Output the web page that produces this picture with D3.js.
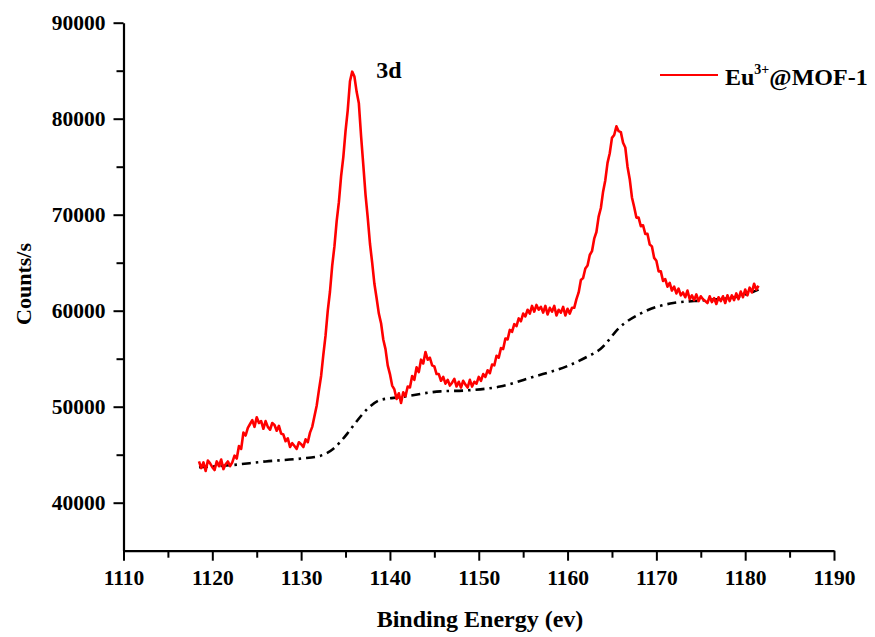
<!DOCTYPE html>
<html>
<head>
<meta charset="utf-8">
<script src="https://cdn.jsdelivr.net/npm/d3@7"></script>
<style>
  body { margin: 0; background: #fff; }
  svg { display: block; }
  text { font-family: "Liberation Serif", "Times New Roman", serif; font-weight: bold; fill: #000; }
</style>
</head>
<body>
<svg width="875" height="637"></svg>
<script>
// XPS Eu 3d spectrum, 0.25 eV steps from 1118.5 to 1181.5
var startEnergy = 1118.5, stepEnergy = 0.25;
var counts = [
  44300, 43600, 44200, 43300, 44400, 44100, 43700, 43400, 44300, 43800,
  44500, 43500, 44000, 44300, 43800, 44200, 44900, 44600, 45900, 45600,
  47300, 47000, 47800, 48200, 48600, 47900, 48900, 48300, 48500, 47700,
  48500, 47900, 47600, 48300, 48100, 47500, 48000, 47200, 47100, 46400,
  46700, 45800, 46200, 45900, 45600, 46300, 46100, 45800, 46600, 46300,
  47300, 47900, 49000, 50100, 51700, 53200, 55400, 57400, 60000, 62000,
  64700, 66700, 69300, 71300, 74000, 76000, 78700, 80900, 83900, 84900,
  84400, 82800, 81600, 78200, 75200, 72100, 69700, 67000, 65000, 62800,
  61300, 59700, 58700, 57000, 56000, 54300, 53400, 52200, 51800, 50800,
  51400, 50400, 51500, 51100, 52100, 52000, 53200, 52800, 54100, 53600,
  54900, 54500, 55700, 54900, 55100, 54300, 54200, 53400, 53400, 52700,
  53100, 52400, 52800, 52200, 52500, 52900, 52100, 52600, 52000, 52700,
  52300, 52000, 52800, 52100, 52600, 52400, 53100, 52700, 53400, 53100,
  53800, 53500, 54400, 54300, 55300, 55100, 56100, 56000, 57100, 57000,
  58000, 57800, 58600, 58400, 59200, 58900, 59700, 59400, 60100, 59700,
  60500, 59900, 60600, 60100, 60400, 59800, 60500, 59600, 60300, 59900,
  60500, 59500, 60100, 59800, 60400, 59500, 60200, 59700, 60300, 60300,
  61200, 61900, 63200, 63400, 64400, 64700, 65800, 66200, 67500, 68200,
  69800, 70700, 72400, 73600, 75400, 76400, 78000, 78300, 79200, 78700,
  78600, 77500, 77000, 75000, 73700, 71800, 70800, 69700, 69700, 68800,
  68900, 68000, 68000, 66900, 66700, 65500, 65200, 64100, 64100, 63100,
  63300, 62500, 62900, 62100, 62500, 61800, 62300, 61600, 61900, 61400,
  62100, 61200, 61600, 61100, 61700, 61000, 61500, 61200, 61000, 60800,
  61500, 60900, 61300, 60700, 61400, 61000, 61500, 60800, 61600, 61000,
  61600, 61100, 61800, 61200, 62000, 61400, 62200, 61600, 62400, 61900,
  62800, 62200, 62600
];

// background (dash-dot)
var bgEnergy = [1118.5, 1122, 1126, 1130, 1132.2, 1133.6, 1135.2, 1136.1, 1137.5, 1138.9, 1141.2, 1145.7,
                1148.7, 1152.4, 1156.1, 1159.9, 1162.2, 1163.7, 1165.9, 1168.2, 1171.9, 1175.7, 1179.4, 1181.5];
var bgCounts = [43700, 43900, 44300, 44600, 44900, 45600, 47200, 48300, 49800, 50700, 51000, 51600,
                51700, 52100, 53100, 54200, 55200, 56000, 58300, 59700, 60800, 61100, 61500, 62200];

var xTicks = [1110, 1120, 1130, 1140, 1150, 1160, 1170, 1180, 1190];
var xMinor = [1115, 1125, 1135, 1145, 1155, 1165, 1175, 1185];
var yTicks = [40000, 50000, 60000, 70000, 80000, 90000];
var yMinor = [45000, 55000, 65000, 75000, 85000];

var svg = d3.select("svg");
var mLeft = 123.5, mRight = 834, mTop = 22.7, mBottom = 550.7;

var x = d3.scaleLinear().domain([1110, 1190]).range([mLeft, mRight]);
var y = d3.scaleLinear().domain([35000, 90000]).range([mBottom, mTop]);

var spectrum = counts.map(function(c, i) { return {e: startEnergy + i * stepEnergy, c: c}; });
var background = bgEnergy.map(function(e, i) { return {e: e, c: bgCounts[i]}; });

// minor ticks
var minorX = svg.append("g")
    .attr("transform", "translate(0," + mBottom + ")")
    .call(d3.axisBottom(x).tickValues(xMinor).tickSize(7).tickFormat(""));
var minorY = svg.append("g")
    .attr("transform", "translate(" + mLeft + ",0)")
    .call(d3.axisLeft(y).tickValues(yMinor).tickSize(7).tickFormat(""));
minorX.select(".domain").remove();
minorY.select(".domain").remove();

var xAxis = svg.append("g")
    .attr("transform", "translate(0," + mBottom + ")")
    .call(d3.axisBottom(x).tickValues(xTicks).tickSize(10).tickPadding(9)
        .tickSizeOuter(0).tickFormat(d3.format("d")));
var yAxis = svg.append("g")
    .attr("transform", "translate(" + mLeft + ",0)")
    .call(d3.axisLeft(y).tickValues(yTicks).tickSize(10).tickPadding(8)
        .tickSizeOuter(0).tickFormat(d3.format("d")));

svg.selectAll(".domain").style("stroke-width", 2.2);
svg.selectAll(".tick line").style("stroke-width", 2);
svg.selectAll(".tick text")
    .style("font-size", "21.5px")
    .style("font-family", "Liberation Serif")
    .style("font-weight", "bold");

// background line
svg.append("path")
    .datum(background)
    .attr("fill", "none")
    .attr("stroke", "#000")
    .attr("stroke-width", 2.6)
    .attr("stroke-dasharray", "9,5,2.5,5")
    .attr("d", d3.line().x(function(d) { return x(d.e); }).y(function(d) { return y(d.c); }).curve(d3.curveMonotoneX));

// spectrum
svg.append("path")
    .datum(spectrum)
    .attr("fill", "none")
    .attr("stroke", "#ff0000")
    .attr("stroke-width", 2.6)
    .attr("stroke-linejoin", "round")
    .attr("d", d3.line().x(function(d) { return x(d.e); }).y(function(d) { return y(d.c); }));

// labels
svg.append("text")
    .attr("x", 389).attr("y", 78)
    .attr("text-anchor", "middle")
    .style("font-size", "24px")
    .text("3d");

svg.append("text")
    .attr("x", 480).attr("y", 627)
    .attr("text-anchor", "middle")
    .style("font-size", "24px")
    .text("Binding Energy (ev)");

svg.append("text")
    .attr("transform", "translate(31,284) rotate(-90)")
    .attr("text-anchor", "middle")
    .style("font-size", "22px")
    .text("Counts/s");

// legend
svg.append("line")
    .attr("x1", 660).attr("x2", 718)
    .attr("y1", 75).attr("y2", 75)
    .attr("stroke", "#ff0000")
    .attr("stroke-width", 2.2);

var leg = svg.append("text")
    .attr("x", 725).attr("y", 85)
    .style("font-size", "24px");
leg.append("tspan").text("Eu");
leg.append("tspan").attr("dy", -11).style("font-size", "14px").text("3+");
leg.append("tspan").attr("dy", 11).text("@MOF-1");
</script>
</body>
</html>
